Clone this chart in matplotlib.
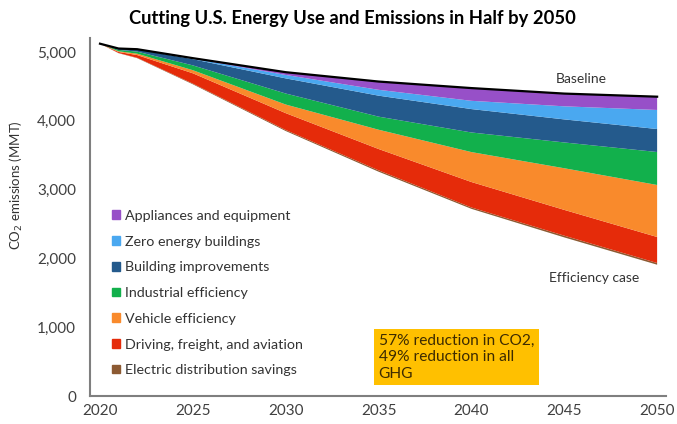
import matplotlib.pyplot as plt
from matplotlib.patches import Patch
from matplotlib.ticker import FuncFormatter
import numpy as np

plt.rcParams['font.family'] = ['Lato', 'DejaVu Sans']

years = [2020, 2021, 2022, 2025, 2030, 2035, 2040, 2045, 2050]

# remaining emissions in the efficiency case (MMT CO2)
efficiency_case = [5120, 4982, 4910, 4530, 3851, 3260, 2720, 2305, 1908]

# savings of each measure, stacked from bottom to top
electric_dist = [0, 3, 5, 10, 15, 20, 20, 25, 25]
driving = [0, 15, 40, 150, 245, 310, 370, 375, 378]
vehicle = [0, 10, 20, 45, 125, 280, 435, 605, 756]
industrial = [0, 20, 30, 70, 160, 190, 285, 375, 479]
building_impr = [0, 20, 33, 90, 220, 305, 340, 335, 334]
zero_energy = [0, 0, 2, 10, 50, 85, 120, 190, 277]
appliances = [0, 0, 0, 5, 40, 120, 185, 185, 193]

labels = ['Electric distribution savings', 'Driving, freight, and aviation',
          'Vehicle efficiency', 'Industrial efficiency', 'Building improvements',
          'Zero energy buildings', 'Appliances and equipment']
colors = ['#8c5a32', '#e52b0a', '#f98a2c', '#12b04c', '#245a8c', '#4aa8f0', '#9750c8']
yticks = [0, 1000, 2000, 3000, 4000, 5000]
xticks = [2020, 2025, 2030, 2035, 2040, 2045, 2050]

fig = plt.figure(figsize=(6.77, 4.24), dpi=100)
ax = fig.add_axes([0.1329, 0.066, 0.8509, 0.8444])

layers = [electric_dist, driving, vehicle, industrial, building_impr, zero_energy, appliances]
ax.stackplot(years, [efficiency_case] + layers,
             colors=['none'] + colors, edgecolor='none')
baseline = np.sum([efficiency_case] + layers, axis=0)
ax.plot(years, baseline, color='black', lw=1.6)

ax.set_xlim(2019.46, 2050.48)
ax.set_ylim(0, 5203)
ax.set_xticks(xticks)
ax.set_yticks(yticks)
ax.yaxis.set_major_formatter(FuncFormatter(lambda v, p: f'{int(v):,}'))
ax.tick_params(length=0, labelsize=11, labelcolor='#404040')
ax.tick_params(axis='y', pad=10)
ax.tick_params(axis='x', pad=6)
for s in ['top', 'right']:
    ax.spines[s].set_visible(False)
for s in ['left', 'bottom']:
    ax.spines[s].set_color('#7f7f7f')
    ax.spines[s].set_linewidth(1.5)

ax.set_ylabel('CO$_2$ emissions (MMT)', fontsize=9.5, color='#333333')
ax.yaxis.set_label_coords(-0.113, 0.589)

fig.text(0.52, 0.957, 'Cutting U.S. Energy Use and Emissions in Half by 2050',
         ha='center', va='center', fontsize=13.2, fontweight='bold', color='black')

ax.text(2045.9, 4610, 'Baseline', ha='center', va='center', fontsize=10, color='#333333')
ax.text(2046.6, 1720, 'Efficiency case', ha='center', va='center', fontsize=10, color='#333333')

ax.text(2035.0, 225, '57% reduction in CO2,\n49% reduction in all\nGHG',
        ha='left', va='bottom', fontsize=11.2, color='#3d2b00', linespacing=1.22,
        bbox=dict(boxstyle='square,pad=0.3', fc='#ffc000', ec='none'))

handles = [Patch(color=c, label=l) for c, l in zip(colors, labels)][::-1]
ax.legend(handles=handles, loc='upper left', bbox_to_anchor=(0.026, 0.54),
          frameon=False, fontsize=10.3, labelcolor='#333333', handlelength=0.55,
          handleheight=0.55, handletextpad=0.35, labelspacing=0.96, borderpad=0)

fig.savefig('out.png', dpi=100)
